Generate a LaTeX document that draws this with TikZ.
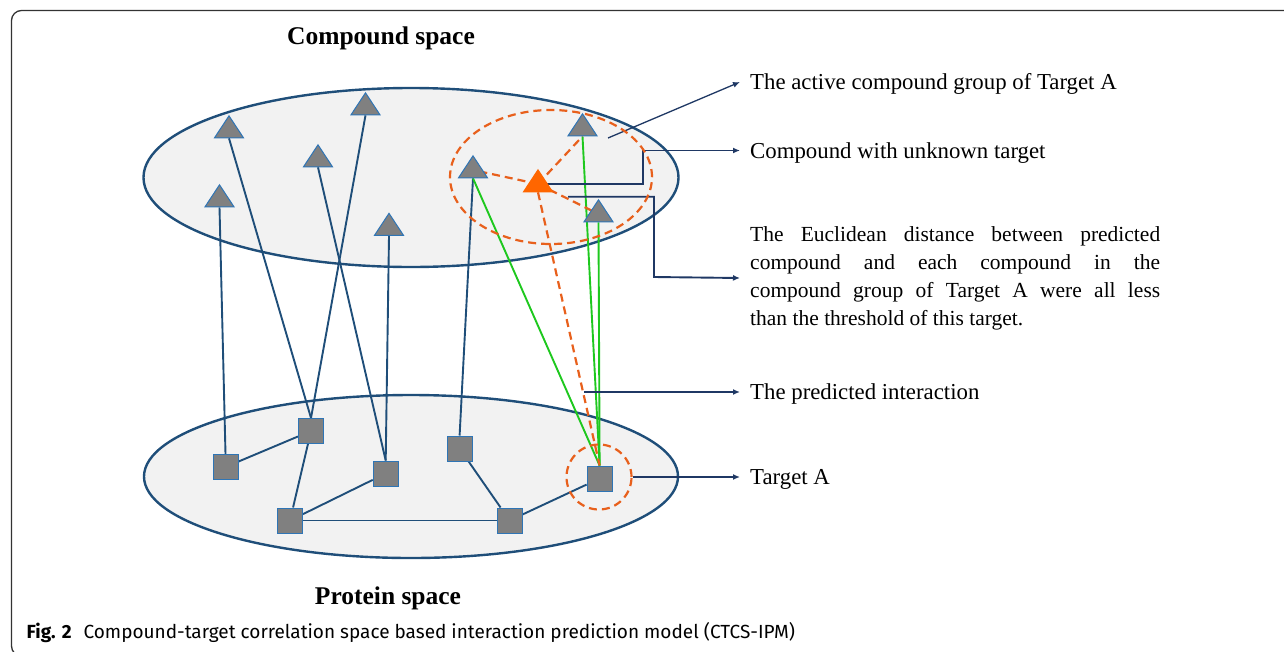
\documentclass[tikz,border=0pt]{standalone}
\usepackage{fontspec}
\setmainfont{Liberation Serif}
\newfontfamily\capfont{Fira Sans}
\usetikzlibrary{positioning, arrows.meta, shapes.geometric, calc, backgrounds}

\definecolor{spaceblue}{RGB}{31,78,121}
\definecolor{spacefill}{RGB}{242,242,242}
\definecolor{nodegray}{RGB}{128,128,128}
\definecolor{edgeblue}{RGB}{46,117,182}
\definecolor{leadblue}{RGB}{31,56,100}
\definecolor{hitgreen}{RGB}{30,200,30}
\definecolor{distorange}{RGB}{232,96,28}
\definecolor{neworange}{RGB}{255,102,0}

\begin{document}
\begin{tikzpicture}[x=1pt, y=-1pt,
  cmpd/.style={isosceles triangle, isosceles triangle apex angle=67,
               isosceles triangle stretches, shape border rotate=90,
               minimum width=29pt, minimum height=22pt, inner sep=0pt,
               fill=nodegray, draw=edgeblue, line width=1pt},
  newcmpd/.style={cmpd, fill=neworange, draw=neworange},
  prot/.style={rectangle, minimum size=25pt, inner sep=0pt,
               fill=nodegray, draw=edgeblue, line width=1pt},
  space/.style={ellipse, fill=spacefill, draw=spaceblue, line width=2.4pt, inner sep=0pt},
  link/.style={draw=spaceblue, line width=1.9pt},
  hit/.style={draw=hitgreen, line width=1.9pt},
  dist/.style={draw=distorange, line width=2.2pt, dash pattern=on 8pt off 5pt},
  lead/.style={-{Latex[length=7pt,width=6pt]}, draw=leadblue, line width=1.9pt},
  note/.style={anchor=west, inner xsep=10pt, inner ysep=0pt, text height=15pt, text depth=0pt,
               font=\fontsize{22.8}{27}\selectfont},
  title/.style={font=\fontsize{25.5}{30}\selectfont\bfseries},
]
\useasboundingbox (0,0) rectangle (1284,651);

% Frame
\draw[black!80, line width=1.3pt, rounded corners=10pt]
  (1300,10.5) -- (11.5,10.5) -- (11.5,656) -- (1300,656);

% Spaces
\begin{scope}[on background layer]
  \node[space, minimum width=535pt, minimum height=179pt] (cspace) at (411,177.5) {};
  \node[space, minimum width=534pt, minimum height=163pt] (pspace) at (411,476.5) {};
\end{scope}
\node[title] (ctitle) at (381,38) {Compound space};
\node[title] (ptitle) at (388,598) {Protein space};

% Compounds
\node[cmpd] (c1) at (229,130) {};
\node[cmpd] (c2) at (365.5,107) {};
\node[cmpd] (c3) at (318,159) {};
\node[cmpd] (c4) at (219.5,199) {};
\node[cmpd] (c5) at (389,227.5) {};
\node[cmpd] (c6) at (473,170) {};
\node[cmpd] (c7) at (582.5,128) {};
\node[cmpd] (c8) at (598.5,214) {};
\node[newcmpd] (cu) at (538,184) {};

% Proteins
\node[prot] (p1) at (225.5,467) {};
\node[prot] (p2) at (311,431) {};
\node[prot] (p3) at (385.7,473.5) {};
\node[prot] (p4) at (290,520.5) {};
\node[prot] (p5) at (459.6,448.5) {};
\node[prot] (p6) at (509.6,520.5) {};
\node[prot] (pa) at (599.6,478.5) {};

% Groups
\node[ellipse, dist, minimum width=202pt, minimum height=134pt] (grp) at (551,177) {};
\node[circle, dist, minimum size=65pt] (ring) at (599,477) {};

% Notes
\node[note] (nA) at (740,82) {The active compound group of Target A};
\node[note] (nB) at (740,150.5) {Compound with unknown target};
\node[anchor=west, inner xsep=10pt, inner ysep=0pt, text width=410pt, align=justify,
      font=\fontsize{21.5}{28}\selectfont] (nC) at (740,278)
  {The Euclidean distance between predicted\linebreak compound and each compound in the\linebreak
   compound group of Target A were all less\linebreak than the threshold of this target.};
\node[note] (nD) at (740,392) {The predicted interaction};
\node[note] (nE) at (740,477) {Target A};

\coordinate (grpin) at (608,138);
\coordinate (kneeB) at (643,160);
\coordinate (eucS) at (568,196.7);
\coordinate (eucK) at (654,277);
\coordinate (predS) at (584,392);

% Edges (on background layer)
\begin{pgfonlayer}{background}
  \draw[link] (c1.south) -- (p2.north);
  \draw[link] (c2.south) -- (p2.north);
  \draw[link] (c3.south) -- (p3.north);
  \draw[link] (c4.south) -- (p1.north);
  \draw[link] (c5.south) -- (p3.north);
  \draw[link] (c6.south) -- (p5.north);
  \draw[link] (p1) -- (p2);
  \draw[link] (p2) -- (p4);
  \draw[link] (p4) -- (p3);
  \draw[link] (p4) -- (p6);
  \draw[link] (p5) -- (p6);
  \draw[link] (p6) -- (pa);
  \draw[hit] (c6.south) -- (pa.north);
  \draw[hit] (c7.south) -- (pa.north);
  \draw[hit] (c8.south) -- (pa.north);
  \draw[dist] (cu.center) -- (c6.center);
  \draw[dist] (cu.center) -- (c7.south);
  \draw[dist] (cu.center) -- (c8.center);
  \draw[dist] (cu.south) -- (pa.north);
  \draw[lead, line width=1.3pt] (grpin) -- (nA.west);
  \draw[lead] (cu.center) -- (cu.center -| kneeB) |- (nB.west);
  \draw[lead] (eucS) -| (eucK) -- (nC.west);
  \draw[lead] (predS) -- (nD.west);
  \draw[lead] (ring.east) -- (nE.west);
\end{pgfonlayer}

% Caption
\node[anchor=base west, inner sep=0pt, font=\capfont\fontsize{19}{22}\selectfont] (cap) at (26.5,638)
  {\textbf{Fig. 2}\hspace{12pt}Compound-target correlation space based interaction prediction model (CTCS-IPM)};

\end{tikzpicture}
\end{document}
